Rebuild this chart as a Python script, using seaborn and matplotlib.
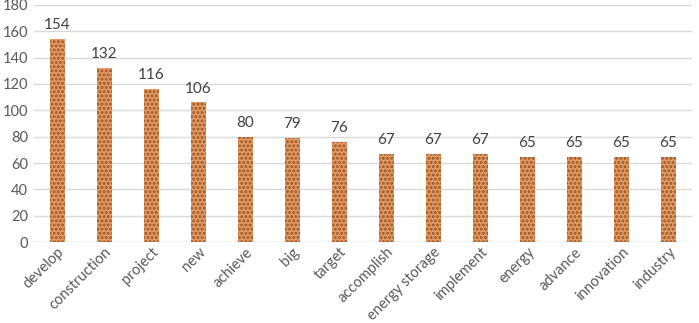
import matplotlib
matplotlib.use("Agg")
import matplotlib.pyplot as plt
import seaborn as sns
import pandas as pd

# word frequencies
words = ["develop", "construction", "project", "new", "achieve", "big", "target",
         "accomplish", "energy storage", "implement", "energy", "advance",
         "innovation", "industry"]
counts = [154, 132, 116, 106, 80, 79, 76, 67, 67, 67, 65, 65, 65, 65]
yticks = [0, 20, 40, 60, 80, 100, 120, 140, 160, 180]

df = pd.DataFrame({"word": words, "count": counts})

sns.set_style("white")
plt.rcParams["font.family"] = ["Lato", "DejaVu Sans"]
plt.rcParams["hatch.linewidth"] = 1.4
txt = "#595959"

fig, ax = plt.subplots(figsize=(6.99, 3.23), dpi=100)
sns.barplot(data=df, x="word", y="count", color="#e09a62", width=0.32,
            saturation=1, ax=ax, zorder=3)
for p in ax.patches:
    p.set_hatch("....")
    p.set_edgecolor("#9c5226")
    p.set_linewidth(0)

for i, v in enumerate(counts):
    ax.annotate(str(v), (i, v), xytext=(0, 5), textcoords="offset points",
                ha="center", va="bottom", fontsize=11, color="#404040")

ax.set_ylim(0, 180)
ax.set_yticks(yticks)
ax.set_xlim(-0.5, len(words) - 0.5)
ax.yaxis.grid(True, color="#d9d9d9", linewidth=1, zorder=0)
ax.set_xlabel("")
ax.set_ylabel("")
for s in ax.spines.values():
    s.set_visible(False)
ax.axhline(0, color="#d9d9d9", linewidth=1, zorder=1)
ax.tick_params(axis="y", length=0, labelsize=10.5, colors=txt, pad=4)
ax.tick_params(axis="x", length=0, colors=txt, pad=2)
plt.setp(ax.get_xticklabels(), rotation=45, ha="right", rotation_mode="anchor",
         fontsize=10.5)

plt.subplots_adjust(left=0.048, right=0.99, top=0.985, bottom=0.25)
plt.savefig("out.png", dpi=100)
